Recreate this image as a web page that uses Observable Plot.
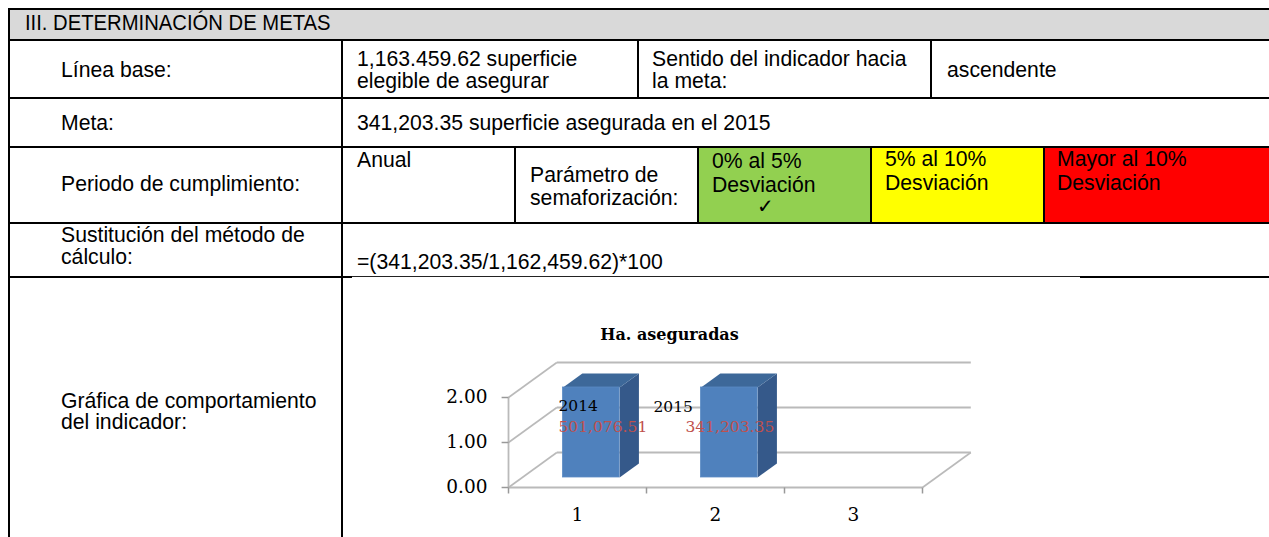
<!DOCTYPE html>
<html>
<head>
<meta charset="utf-8">
<script src="https://cdn.jsdelivr.net/npm/d3@7"></script>
<script src="https://cdn.jsdelivr.net/npm/@observablehq/plot@0.6"></script>
<style>
  html, body { margin: 0; padding: 0; background: #fff; }
  #page { position: relative; width: 1269px; height: 537px; overflow: hidden; background: #fff; }
  .t { position: absolute; white-space: nowrap; color: #000; font-family: "Liberation Sans", Arial, sans-serif; }
  .r { position: absolute; }
</style>
</head>
<body>
<div id="page"></div>
<script>
// ---------- table text ----------
const headerTitle = "III. DETERMINACIÓN DE METAS";
const rowLabels = [
  ["Línea base:"],
  ["Meta:"],
  ["Periodo de cumplimiento:"],
  ["Sustitución del método de", "cálculo:"],
  ["Gráfica de comportamiento", "del indicador:"]
];
const lineaBase = ["1,163.459.62 superficie", "elegible de asegurar"];
const sentidoLabel = ["Sentido del indicador hacia", "la meta:"];
const sentidoValue = ["ascendente"];
const metaText = ["341,203.35 superficie asegurada en el 2015"];
const periodoText = ["Anual"];
const parametroLabel = ["Parámetro de", "semaforización:"];
const semaforoTexts = [["0% al 5%", "Desviación"], ["5% al 10%", "Desviación"], ["Mayor al 10%", "Desviación"]];
const semaforoColors = ["#92d050", "#ffff00", "#ff0000"];
const checkMark = "✓";
const formulaText = ["=(341,203.35/1,162,459.62)*100"];

// ---------- chart data ----------
const chartTitle = "Ha. aseguradas";
const categories = [1, 2];
const xTicks = [1, 2, 3];
const values = [2, 2];
const seriesNames = ["2014", "2015"];
const valueLabels = ["501,076.51", "341,203.35"];
const yTicks = [0, 1, 2];

// ---------- table drawing ----------
const page = document.getElementById("page");
function rect(x, y, w, h, color) {
  const d = document.createElement("div");
  d.className = "r";
  d.style.cssText = `left:${x}px;top:${y}px;width:${w}px;height:${h}px;background:${color};`;
  page.appendChild(d);
}
const BODY = 21.2;
function lines(arr, x, baseline, size = BODY, pitch = 22, extra = "") {
  arr.forEach((s, i) => {
    const d = document.createElement("div");
    d.className = "t";
    d.textContent = s;
    d.style.cssText = `left:${x}px;top:${baseline + i * pitch - 0.8465 * size}px;font-size:${size}px;line-height:${size}px;${extra}`;
    page.appendChild(d);
  });
}

// fills
rect(10, 10, 1259, 29, "#d9d9d9");
rect(699, 148, 172, 74, semaforoColors[0]);
rect(872, 148, 172, 74, semaforoColors[1]);
rect(1045, 148, 224, 74, semaforoColors[2]);

// borders
const K = "#000";
rect(8, 8, 1261, 2, K);        // top
rect(8, 39, 1261, 2, K);       // header bottom
rect(8, 97, 1261, 2, K);       // row 1 bottom
rect(8, 146, 1261, 2, K);      // meta bottom
rect(8, 222, 1261, 2, K);      // periodo bottom
rect(8, 276, 344, 2, K);       // sustitucion bottom (left)
rect(352, 276, 728, 1, "#222");
rect(1080, 276, 189, 2, K);
rect(8, 8, 2, 529, K);         // left border
rect(341, 40, 2, 497, K);      // first column
rect(637, 40, 2, 58, K);
rect(930, 40, 2, 58, K);
rect(514, 147, 2, 76, K);
rect(697, 147, 2, 76, K);
rect(870, 147, 2, 76, K);
rect(1043, 147, 2, 76, K);

// texts
lines([headerTitle], 25, 31, 22, 0, "transform:scaleX(0.92);transform-origin:0 0;");
lines(rowLabels[0], 61, 77);
lines(rowLabels[1], 61, 130);
lines(rowLabels[2], 61, 191);
lines(rowLabels[3], 61, 242, BODY, 22);
lines(rowLabels[4], 61, 408, BODY, 21);
lines(lineaBase, 357, 66);
lines(sentidoLabel, 652, 66);
lines(sentidoValue, 947, 77);
lines(metaText, 357, 130);
lines(periodoText, 357, 167);
lines(parametroLabel, 530, 182, BODY, 23);
lines(semaforoTexts[0], 712, 168, BODY, 24);
lines(semaforoTexts[1], 885, 166, BODY, 24);
lines(semaforoTexts[2], 1057, 166, BODY, 24);
lines([checkMark], 757, 213, 20, 0, "font-family:'DejaVu Sans',sans-serif;");
lines(formulaText, 357, 269);

// ---------- chart (Observable Plot) ----------
const xMin = 0.5, xMax = xTicks.length + 0.5;
const DX = 0.35, DY = 0.778;      // depth direction in data units
const BW = 0.41, Z0 = 0.286, Z1 = 0.686;  // bar width and depth span
const bars = categories.map((c, i) => ({c, v: values[i], name: seriesNames[i], label: valueLabels[i]}));
const grid = yTicks.map(v => ({v}));
const bounds = d3.range(xTicks.length + 1).map(i => xMin + i);
const tk = 0.133, tkx = 0.05;

const proj = (x, v, z) => ({x: x + DX * z, y: v + DY * z});
const topFaces = bars.flatMap(b => [
  proj(b.c - BW / 2, b.v, Z0), proj(b.c + BW / 2, b.v, Z0),
  proj(b.c + BW / 2, b.v, Z1), proj(b.c - BW / 2, b.v, Z1)
].map(p => ({...p, bar: b.name})));
const sideFaces = bars.flatMap(b => [
  proj(b.c + BW / 2, 0, Z0), proj(b.c + BW / 2, 0, Z1),
  proj(b.c + BW / 2, b.v, Z1), proj(b.c + BW / 2, b.v, Z0)
].map(p => ({...p, bar: b.name})));

const G = "#bababa";
const chart = Plot.plot({
  width: 925,
  height: 257,
  marginLeft: 0, marginRight: 275, marginTop: 0, marginBottom: 0,
  x: {domain: [xMin, xMax], range: [164, 578], axis: null},
  y: {domain: [0, 2], range: [207, 117], axis: null},
  style: {fontFamily: "'DejaVu Serif', serif", fontSize: "17px", background: "transparent", overflow: "visible"},
  marks: [
    // back wall gridlines
    Plot.link(grid, {x1: () => xMin + DX, x2: () => xMax + DX, y1: d => d.v + DY, y2: d => d.v + DY, stroke: G, strokeWidth: 2}),
    // side wall diagonals
    Plot.link(grid, {x1: () => xMin, y1: d => d.v, x2: () => xMin + DX, y2: d => d.v + DY, stroke: G, strokeWidth: 1.6}),
    // floor
    Plot.link([0], {x1: () => xMin, x2: () => xMax, y1: () => 0, y2: () => 0, stroke: G, strokeWidth: 1.8}),
    Plot.link([0], {x1: () => xMax, x2: () => xMax + DX, y1: () => 0, y2: () => DY, stroke: G, strokeWidth: 1.6}),
    // value axis
    Plot.link([0], {x1: () => xMin, x2: () => xMin, y1: () => 0, y2: () => d3.max(yTicks), stroke: G, strokeWidth: 1.8}),
    Plot.link(grid, {x1: () => xMin - tkx, x2: () => xMin, y1: d => d.v, y2: d => d.v, stroke: "#999", strokeWidth: 1.5}),
    Plot.link(bounds, {x1: d => d, x2: d => d, y1: () => 0, y2: () => -tk, stroke: "#999", strokeWidth: 1.5}),
    Plot.text(grid, {x: () => xMin, y: "v", text: d => d.v.toFixed(2), textAnchor: "end", dx: -21, fontSize: 18.5, fill: "#000"}),
    Plot.text(xTicks, {x: d => d, y: () => 0, text: d => String(d), dy: 28, fontSize: 18.5, fill: "#000"}),
    // bars: side, top, front
    Plot.line(sideFaces, {x: "x", y: "y", z: "bar", fill: "#35598a", stroke: "none"}),
    Plot.line(topFaces, {x: "x", y: "y", z: "bar", fill: "#3d6899", stroke: "none"}),
    Plot.rect(bars, {
      x1: b => b.c - BW / 2 + DX * Z0, x2: b => b.c + BW / 2 + DX * Z0,
      y1: () => DY * Z0, y2: b => b.v + DY * Z0,
      fill: "#4f81bd", stroke: "#5a8ac4", strokeWidth: 0.8
    }),
    // data labels
    Plot.text(bars, {filter: (d, i) => i === 0, x: "c", y: "v", text: "name", textAnchor: "start", dx: -19, dy: 9, fontSize: 15.5, fill: "#000"}),
    Plot.text(bars, {filter: (d, i) => i === 0, x: "c", y: "v", text: "label", textAnchor: "start", dx: -19, dy: 30, fontSize: 15.5, fill: "#c0504d"}),
    Plot.text(bars, {filter: (d, i) => i === 1, x: "c", y: "v", text: "name", textAnchor: "start", dx: -62, dy: 10, fontSize: 15.5, fill: "#000"}),
    Plot.text(bars, {filter: (d, i) => i === 1, x: "c", y: "v", text: "label", textAnchor: "start", dx: -30, dy: 30, fontSize: 15.5, fill: "#c0504d"}),
    // title
    Plot.text([chartTitle], {frameAnchor: "top", dy: 54, text: d => d, fontWeight: "bold", fontSize: 16, lineAnchor: "middle", fill: "#000"})
  ]
});
chart.style.position = "absolute";
chart.style.left = "344px";
chart.style.top = "280px";
page.appendChild(chart);
</script>
</body>
</html>
